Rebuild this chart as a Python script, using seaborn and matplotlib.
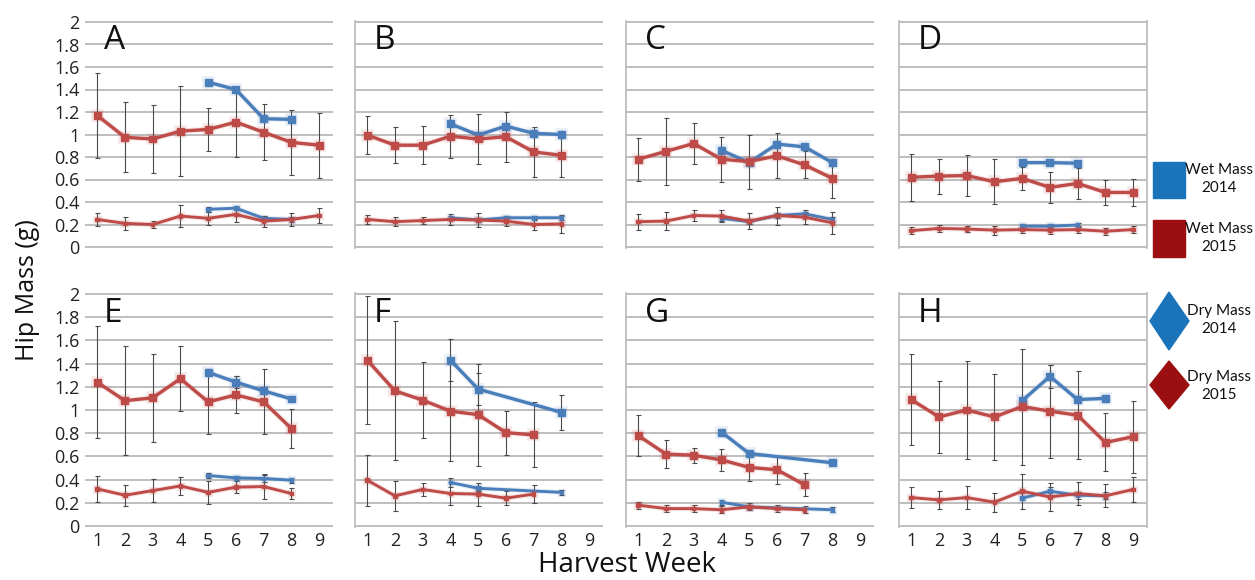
import numpy as np
import pandas as pd
import matplotlib
matplotlib.use("Agg")
import matplotlib.pyplot as plt
import seaborn as sns
from matplotlib import patheffects as pe
from matplotlib.patches import Rectangle, Polygon

N = np.nan

weeks = [1, 2, 3, 4, 5, 6, 7, 8, 9]
panels = ["A", "B", "C", "D", "E", "F", "G", "H"]
y_ticks = [0, 0.2, 0.4, 0.6, 0.8, 1, 1.2, 1.4, 1.6, 1.8, 2]
y_tick_labels = ["0", "0.2", "0.4", "0.6", "0.8", "1", "1.2", "1.4", "1.6", "1.8", "2"]

# mean hip mass (g) per harvest week, one row per panel A-H
wet_2015 = [
    [1.17, 0.975, 0.96, 1.03, 1.045, 1.11, 1.02, 0.93, 0.905],
    [0.995, 0.905, 0.905, 0.985, 0.96, 0.98, 0.845, 0.815, N],
    [0.78, 0.85, 0.92, 0.78, 0.76, 0.81, 0.73, 0.61, N],
    [0.62, 0.63, 0.635, 0.58, 0.61, 0.53, 0.565, 0.485, 0.485],
    [1.24, 1.08, 1.105, 1.27, 1.07, 1.13, 1.07, 0.84, N],
    [1.43, 1.165, 1.085, 0.99, 0.96, 0.805, 0.785, N, N],
    [0.78, 0.62, 0.61, 0.57, 0.505, 0.485, 0.355, N, N],
    [1.09, 0.94, 1.0, 0.94, 1.03, 0.99, 0.955, 0.72, 0.77],
]
wet_2015_err = [
    [0.38, 0.31, 0.30, 0.40, 0.19, 0.31, 0.25, 0.29, 0.29],
    [0.17, 0.16, 0.17, 0.19, 0.22, 0.22, 0.22, 0.19, N],
    [0.19, 0.30, 0.185, 0.20, 0.24, 0.20, 0.12, 0.17, N],
    [0.21, 0.155, 0.18, 0.20, 0.10, 0.14, 0.14, 0.11, 0.12],
    [0.48, 0.47, 0.38, 0.28, 0.28, 0.16, 0.28, 0.17, N],
    [0.55, 0.60, 0.33, 0.43, 0.44, 0.19, 0.28, N, N],
    [0.18, 0.12, 0.065, 0.095, 0.12, 0.12, 0.10, N, N],
    [0.39, 0.31, 0.42, 0.37, 0.50, 0.40, 0.38, 0.25, 0.31],
]
wet_2014 = [
    [N, N, N, N, 1.465, 1.40, 1.14, 1.135, N],
    [N, N, N, 1.095, 0.995, 1.075, 1.01, 1.0, N],
    [N, N, N, 0.86, 0.75, 0.915, 0.89, 0.75, N],
    [N, N, N, N, 0.75, 0.75, 0.745, N, N],
    [N, N, N, N, 1.325, 1.24, 1.165, 1.095, N],
    [N, N, N, 1.43, 1.18, N, N, 0.98, N],
    [N, N, N, 0.81, 0.625, N, N, 0.545, N],
    [N, N, N, N, 1.08, 1.29, 1.09, 1.10, N],
]
wet_2014_err = [
    [N, N, N, N, 0.02, 0.02, 0.02, 0.02, N],
    [N, N, N, 0.03, 0.03, 0.03, 0.03, 0.03, N],
    [N, N, N, 0.03, 0.03, 0.03, 0.03, 0.03, N],
    [N, N, N, N, 0.02, 0.02, 0.02, N, N],
    [N, N, N, N, 0.03, 0.05, 0.03, 0.03, N],
    [N, N, N, 0.18, 0.14, N, N, 0.15, N],
    [N, N, N, 0.02, 0.02, N, N, 0.02, N],
    [N, N, N, N, 0.03, 0.10, 0.03, 0.03, N],
]
dry_2015 = [
    [0.245, 0.21, 0.20, 0.275, 0.255, 0.29, 0.23, 0.245, 0.28],
    [0.245, 0.225, 0.235, 0.245, 0.24, 0.23, 0.20, 0.205, N],
    [0.225, 0.23, 0.28, 0.275, 0.23, 0.28, 0.265, 0.215, N],
    [0.145, 0.165, 0.16, 0.15, 0.155, 0.15, 0.155, 0.14, 0.155],
    [0.32, 0.265, 0.305, 0.345, 0.29, 0.335, 0.34, 0.28, N],
    [0.395, 0.26, 0.315, 0.28, 0.275, 0.24, 0.275, N, N],
    [0.18, 0.15, 0.15, 0.14, 0.165, 0.15, 0.14, N, N],
    [0.245, 0.225, 0.245, 0.205, 0.30, 0.25, 0.28, 0.26, 0.315],
]
dry_2015_err = [
    [0.06, 0.06, 0.03, 0.10, 0.06, 0.07, 0.05, 0.055, 0.07],
    [0.04, 0.04, 0.03, 0.05, 0.06, 0.04, 0.05, 0.08, N],
    [0.07, 0.08, 0.05, 0.05, 0.07, 0.08, 0.06, 0.10, N],
    [0.03, 0.03, 0.03, 0.04, 0.03, 0.03, 0.03, 0.03, 0.03],
    [0.11, 0.09, 0.10, 0.08, 0.10, 0.05, 0.11, 0.05, N],
    [0.22, 0.13, 0.06, 0.10, 0.10, 0.06, 0.08, N, N],
    [0.03, 0.03, 0.03, 0.03, 0.03, 0.03, 0.03, N, N],
    [0.09, 0.075, 0.10, 0.08, 0.15, 0.12, 0.10, 0.10, 0.11],
]
dry_2014 = [
    [N, N, N, N, 0.335, 0.345, 0.255, 0.245, N],
    [N, N, N, 0.26, 0.24, 0.26, 0.26, 0.26, N],
    [N, N, N, 0.255, 0.225, 0.28, 0.295, 0.245, N],
    [N, N, N, N, 0.185, 0.185, 0.195, N, N],
    [N, N, N, N, 0.435, 0.415, 0.41, 0.395, N],
    [N, N, N, 0.375, 0.325, N, N, 0.29, N],
    [N, N, N, 0.205, 0.165, N, N, 0.14, N],
    [N, N, N, N, 0.24, 0.30, 0.265, 0.26, N],
]
dry_2014_err = [
    [N, N, N, N, 0.02, 0.02, 0.02, 0.02, N],
    [N, N, N, 0.02, 0.02, 0.02, 0.02, 0.02, N],
    [N, N, N, 0.02, 0.02, 0.02, 0.02, 0.02, N],
    [N, N, N, N, 0.02, 0.02, 0.02, N, N],
    [N, N, N, N, 0.02, 0.02, 0.03, 0.02, N],
    [N, N, N, 0.04, 0.02, N, N, 0.02, N],
    [N, N, N, 0.02, 0.02, N, N, 0.02, N],
    [N, N, N, N, 0.02, 0.04, 0.03, 0.03, N],
]

legend_labels = ["Wet Mass\n2014", "Wet Mass\n2015", "Dry Mass\n2014", "Dry Mass\n2015"]

LINE_BLUE = "#4a7ebb"
LINE_RED = "#be4b48"
KEY_BLUE = "#1b73b9"
KEY_RED = "#9c0f10"
GRID = "#b9b9b9"

# long-form table: one row per panel / series / week
records = []
series_sources = [
    ("wet", 2014, wet_2014, wet_2014_err),
    ("dry", 2014, dry_2014, dry_2014_err),
    ("wet", 2015, wet_2015, wet_2015_err),
    ("dry", 2015, dry_2015, dry_2015_err),
]
for kind, year, values, errors in series_sources:
    for p, panel in enumerate(panels):
        for w, week in enumerate(weeks):
            records.append({"panel": panel, "kind": kind, "year": year, "week": week,
                            "mass": values[p][w], "err": errors[p][w]})
df = pd.DataFrame(records).dropna(subset=["mass"])

sns.set_theme(style="white")
plt.rcParams["font.family"] = ["Open Sans", "DejaVu Sans"]

W, H = 1255, 580
fig = plt.figure(figsize=(W / 100, H / 100), dpi=100)

lefts = [85, 355, 626, 899]
width = 248
rows = [(247, 22), (526, 294)]  # pixel rows of the 0 and 2 gridlines
pad = 0.012

style = {
    ("wet", 2014): dict(color=LINE_BLUE, lw=2.4, ms=5.0),
    ("wet", 2015): dict(color=LINE_RED, lw=2.4, ms=5.0),
    ("dry", 2014): dict(color=LINE_BLUE, lw=2.1, ms=2.6),
    ("dry", 2015): dict(color=LINE_RED, lw=2.1, ms=2.6),
}

for i, panel in enumerate(panels):
    r, c = divmod(i, 4)
    y0px, y2px = rows[r]
    per = (y0px - y2px) / 2.0
    bottom_px = y0px + pad * per
    top_px = y2px - pad * per
    ax = fig.add_axes([lefts[c] / W, 1 - bottom_px / H, width / W, (bottom_px - top_px) / H])
    ax.set_xlim(0.56, 9.5)
    ax.set_ylim(-pad, 2 + pad)
    ax.set_yticks(y_ticks)
    ax.yaxis.grid(True, color=GRID, lw=1.3)
    ax.xaxis.grid(False)
    ax.set_axisbelow(True)
    ax.set_xticks(weeks)
    ax.tick_params(length=0, labelsize=13, colors="#222222", pad=3)
    if c == 0:
        ax.set_yticklabels(y_tick_labels)
        ax.tick_params(axis="y", pad=4)
    else:
        ax.set_yticklabels([])
    if r == 0:
        ax.set_xticklabels([])
    else:
        ax.set_xticklabels([str(w) for w in weeks])
    for side in ["top", "bottom", "left", "right"]:
        ax.spines[side].set_visible(False)
    if c > 0:
        ax.spines["left"].set_visible(True)
        ax.spines["left"].set_color(GRID)
        ax.spines["left"].set_linewidth(1.2)
    if c == 3:
        ax.spines["right"].set_visible(True)
        ax.spines["right"].set_color(GRID)
        ax.spines["right"].set_linewidth(1.2)

    sub = df[df["panel"] == panel]
    for kind, year in [("wet", 2014), ("dry", 2014), ("wet", 2015), ("dry", 2015)]:
        s = sub[(sub["kind"] == kind) & (sub["year"] == year)].sort_values("week")
        if s.empty:
            continue
        st = style[(kind, year)]
        ax.errorbar(s["week"], s["mass"], yerr=s["err"], fmt="none", ecolor="#4a4a4a",
                    elinewidth=0.8, capsize=1.8, capthick=0.8, zorder=2)
        sns.lineplot(data=s, x="week", y="mass", ax=ax, color=st["color"], lw=st["lw"],
                     marker="s", markersize=st["ms"], markeredgecolor=st["color"],
                     markeredgewidth=1.0, errorbar=None, legend=False, zorder=3,
                     sort=True)
        line = ax.lines[-1]
        line.set_path_effects([pe.Stroke(linewidth=st["lw"] + 1.6, foreground=st["color"], alpha=0.13),
                               pe.Normal()])
    ax.set_xlabel("")
    ax.set_ylabel("")
    ax.text(0.075, 1.76, panel, transform=ax.get_yaxis_transform(), fontsize=24,
            color="#111111", va="baseline", ha="left")

fig.text(27 / W, 0.5, "Hip Mass (g)", rotation=90, fontsize=18, color="#111111",
         ha="center", va="center")
fig.text(627 / W, 1 - 565 / H, "Harvest Week", fontsize=20, color="#111111",
         ha="center", va="center")

# key drawn in pixel coordinates on its own overlay
lax = fig.add_axes([0, 0, 1, 1])
lax.set_xlim(0, W)
lax.set_ylim(H, 0)
lax.axis("off")
lax.add_patch(Rectangle((1153, 162), 32, 36, facecolor=KEY_BLUE, edgecolor=KEY_BLUE))
lax.add_patch(Rectangle((1153, 220), 32, 37, facecolor=KEY_RED, edgecolor=KEY_RED))
lax.add_patch(Polygon([(1169, 292), (1189, 321), (1169, 350), (1150, 321)], closed=True,
                      facecolor=KEY_BLUE, edgecolor=KEY_BLUE))
lax.add_patch(Polygon([(1169, 361), (1189, 385), (1169, 409), (1150, 385)], closed=True,
                      facecolor=KEY_RED, edgecolor=KEY_RED))
key_pos = [(1219, 179), (1219, 238), (1219, 320), (1219, 386)]
for (x, y), lab in zip(key_pos, legend_labels):
    lax.text(x, y, lab, fontsize=11, ha="center", va="center", color="#111111",
             linespacing=1.3, family=["Lato", "DejaVu Sans"])

fig.savefig("out.png", dpi=100)
